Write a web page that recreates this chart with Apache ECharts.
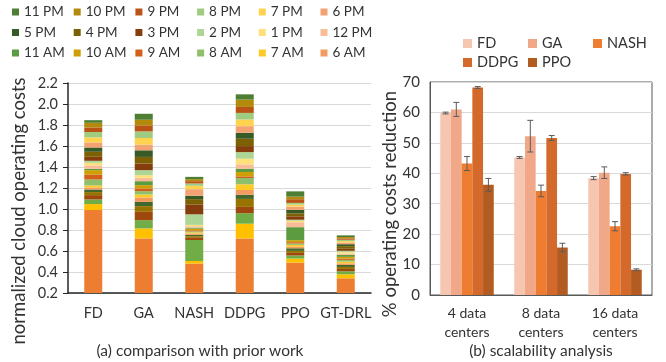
<!DOCTYPE html>
<html>
<head>
<meta charset="utf-8">
<script src="https://cdn.jsdelivr.net/npm/echarts@6/dist/echarts.min.js"></script>
<style>
  html, body { margin: 0; padding: 0; background: #fff; }
  #chart { width: 666px; height: 362px; }
</style>
</head>
<body>
<div id="chart"></div>
<script>
// ---- (a) normalized cloud operating costs, stacked by hour of day ----
const methods = ['FD', 'GA', 'NASH', 'DDPG', 'PPO', 'GT-DRL'];
const hours = ['12 AM', '1 AM', '2 AM', '3 AM', '4 AM', '5 AM', '6 AM', '7 AM', '8 AM', '9 AM', '10 AM', '11 AM',
  '12 PM', '1 PM', '2 PM', '3 PM', '4 PM', '5 PM', '6 PM', '7 PM', '8 PM', '9 PM', '10 PM', '11 PM'];
const hourColors = ['#ED7D31', '#FFC000', '#70AD47', '#9E480E', '#997300', '#43682B',
  '#F29A5F', '#FFC926', '#8EC06C', '#D3601A', '#CF9E02', '#5D9B40',
  '#F8BD98', '#FFE07A', '#ADD595', '#853D0E', '#7C6003', '#375B27',
  '#F3A373', '#FFD34F', '#9FCC80', '#BA5416', '#B38A0C', '#4E7E33'];
// the legend of the original only shows 11 PM .. 6 AM, newest first
const legendRows = [
  ['11 PM', '10 PM', '9 PM', '8 PM', '7 PM', '6 PM'],
  ['5 PM', '4 PM', '3 PM', '2 PM', '1 PM', '12 PM'],
  ['11 AM', '10 AM', '9 AM', '8 AM', '7 AM', '6 AM']
];

// one value per hour, 12 AM first
const costFD = [0.99, 0.057, 0.044, 0.041, 0.029, 0.025, 0.019, 0.019, 0.057, 0.048, 0.041, 0.013,
  0.032, 0.025, 0.019, 0.038, 0.048, 0.041, 0.048, 0.048, 0.051, 0.044, 0.044, 0.025];
const costGA = [0.72, 0.095, 0.079, 0.079, 0.054, 0.041, 0.041, 0.029, 0.032, 0.025, 0.032, 0.038,
  0.032, 0.025, 0.048, 0.063, 0.063, 0.063, 0.054, 0.063, 0.063, 0.057, 0.054, 0.057];
const costNASH = [0.48, 0.025, 0.2, 0.02, 0.016, 0.013, 0.013, 0.01, 0.01, 0.01, 0.016, 0.01,
  0.013, 0.013, 0.1, 0.095, 0.05, 0.032, 0.063, 0.032, 0.022, 0.022, 0.019, 0.022];
const costDDPG = [0.72, 0.14, 0.10, 0.06, 0.076, 0.04, 0.045, 0.054, 0.06, 0.016, 0.041, 0.032,
  0.041, 0.054, 0.063, 0.057, 0.07, 0.057, 0.063, 0.063, 0.063, 0.057, 0.07, 0.05];
const costPPO = [0.49, 0.038, 0.029, 0.025, 0.019, 0.025, 0.016, 0.016, 0.013, 0.013, 0.019, 0.124,
  0.048, 0.013, 0.01, 0.032, 0.029, 0.032, 0.032, 0.019, 0.016, 0.035, 0.025, 0.05];
const costGTDRL = [0.34, 0.038, 0.029, 0.022, 0.019, 0.019, 0.016, 0.016, 0.016, 0.013, 0.016, 0.019,
  0.013, 0.013, 0.013, 0.019, 0.025, 0.019, 0.016, 0.013, 0.013, 0.013, 0.013, 0.016];
const costTicks = { min: 0.2, max: 2.2, step: 0.2 };

// ---- (b) scalability analysis ----
const centers = ['4 data\ncenters', '8 data\ncenters', '16 data\ncenters'];
const redNames = ['FD', 'GA', 'NASH', 'DDPG', 'PPO'];
const redLegendRows = [['FD', 'GA', 'NASH'], ['DDPG', 'PPO']];
const redColors = ['#F6C6B1', '#F0A889', '#EE7D31', '#D3692A', '#B35C22'];
const redFD = [59.8, 45.2, 38.4];
const redGA = [61.0, 52.2, 40.2];
const redNASH = [43.2, 34.2, 22.6];
const redDDPG = [68.2, 51.6, 39.8];
const redPPO = [36.2, 15.6, 8.3];
const errFD = [0.3, 0.3, 0.5];
const errGA = [2.3, 5.2, 1.9];
const errNASH = [2.3, 1.9, 1.5];
const errDDPG = [0.3, 0.8, 0.4];
const errPPO = [2.1, 1.4, 0.3];
const redTicks = { min: 0, max: 70, step: 10 };

const FONT = 'Lato';
const TXT = '#333';
const barW = 10.7;

const costs = [costFD, costGA, costNASH, costDDPG, costPPO, costGTDRL];
const reds = [redFD, redGA, redNASH, redDDPG, redPPO];
const errs = [errFD, errGA, errNASH, errDDPG, errPPO];

let series = [];
for (let h = 0; h < hours.length; h++) {
  series.push({
    name: hours[h],
    type: 'bar',
    stack: 'cost',
    xAxisIndex: 0,
    yAxisIndex: 0,
    barWidth: 18,
    itemStyle: { color: hourColors[h] },
    data: costs.map(c => c[h])
  });
}
for (let k = 0; k < redNames.length; k++) {
  series.push({
    name: redNames[k],
    type: 'bar',
    xAxisIndex: 1,
    yAxisIndex: 1,
    barWidth: barW,
    barGap: 0,
    itemStyle: { color: redColors[k] },
    data: reds[k]
  });
}
// error bars, one custom series per method
for (let k = 0; k < redNames.length; k++) {
  series.push({
    name: redNames[k] + ' err',
    type: 'custom',
    xAxisIndex: 1,
    yAxisIndex: 1,
    z: 5,
    encode: { x: 0, y: 1 },
    data: reds[k].map((v, i) => [i, v, errs[k][i]]),
    renderItem: function (params, api) {
      const c = api.value(0), v = api.value(1), e = api.value(2);
      const hi = api.coord([c, v + e]);
      const lo = api.coord([c, v - e]);
      const x = hi[0] + (k - 2) * barW;
      const style = { stroke: '#5a5a5a', lineWidth: 1 };
      return {
        type: 'group',
        children: [
          { type: 'line', shape: { x1: x, y1: hi[1], x2: x, y2: lo[1] }, style: style },
          { type: 'line', shape: { x1: x - 3, y1: hi[1], x2: x + 3, y2: hi[1] }, style: style },
          { type: 'line', shape: { x1: x - 3, y1: lo[1], x2: x + 3, y2: lo[1] }, style: style }
        ]
      };
    }
  });
}

// one legend per entry so the items line up in columns like the original
function legendGrid(rows, left, top, colStep, rowStep, icon, size) {
  let out = [];
  rows.forEach((row, r) => {
    row.forEach((name, c) => {
      out.push({
        data: [name],
        left: left + c * colStep,
        top: top + r * rowStep,
        padding: 0,
        icon: 'rect',
        itemWidth: icon,
        itemHeight: icon,
        itemGap: 5,
        selectedMode: false,
        textStyle: { fontSize: size, color: TXT, fontFamily: FONT }
      });
    });
  });
  return out;
}

const chart = echarts.init(document.getElementById('chart'));
chart.setOption({
  animation: false,
  textStyle: { fontFamily: FONT },
  legend: legendGrid(legendRows, 12, 5, 61.7, 20.5, 7, 13.5)
    .concat(legendGrid(redLegendRows, 463, 36, 65, 19, 9, 14.5)),
  grid: [
    { left: 68, top: 83, width: 303, height: 210 },
    { left: 430, top: 82, width: 222, height: 213, show: true, borderColor: '#595959', borderWidth: 1 }
  ],
  xAxis: [
    {
      type: 'category', gridIndex: 0, data: methods,
      axisLine: { lineStyle: { color: '#262626', width: 1.5 } },
      axisTick: { show: false },
      axisLabel: { color: TXT, fontSize: 14.5, margin: 13, interval: 0 }
    },
    {
      type: 'category', gridIndex: 1, data: centers,
      axisLine: { lineStyle: { color: '#595959', width: 1 } },
      axisTick: { show: false },
      axisLabel: { color: TXT, fontSize: 14, lineHeight: 19, margin: 9, interval: 0 }
    }
  ],
  yAxis: [
    {
      type: 'value', gridIndex: 0,
      min: costTicks.min, max: costTicks.max, interval: costTicks.step,
      axisLine: { show: true, lineStyle: { color: '#262626', width: 1.5 } },
      axisTick: { show: true, length: 5, lineStyle: { color: '#262626' } },
      splitLine: { lineStyle: { color: '#D9D9D9' } },
      axisLabel: { color: TXT, fontSize: 14.5, margin: 10, formatter: v => v.toFixed(1) }
    },
    {
      type: 'value', gridIndex: 1,
      min: redTicks.min, max: redTicks.max, interval: redTicks.step,
      axisLine: { show: true, lineStyle: { color: '#595959', width: 1 } },
      axisTick: { show: false },
      splitLine: { lineStyle: { color: '#D9D9D9' } },
      axisLabel: { color: TXT, fontSize: 15, margin: 10 }
    }
  ],
  graphic: [
    {
      type: 'text', x: 19, y: 211, rotation: Math.PI / 2,
      style: { text: 'normalized cloud operating costs', font: '18.5px Lato', fill: TXT, textAlign: 'center', textVerticalAlign: 'middle' }
    },
    {
      type: 'text', x: 390, y: 204, rotation: Math.PI / 2,
      style: { text: '% operating costs reduction', font: '18.5px Lato', fill: TXT, textAlign: 'center', textVerticalAlign: 'middle' }
    },
    {
      type: 'text', x: 200, y: 351,
      style: { text: '(a) comparison with prior work', font: '15.5px Lato', fill: TXT, textAlign: 'center', textVerticalAlign: 'middle' }
    },
    {
      type: 'text', x: 541, y: 351,
      style: { text: '(b) scalability analysis', font: '15.5px Lato', fill: TXT, textAlign: 'center', textVerticalAlign: 'middle' }
    }
  ],
  series: series
});
</script>
</body>
</html>
